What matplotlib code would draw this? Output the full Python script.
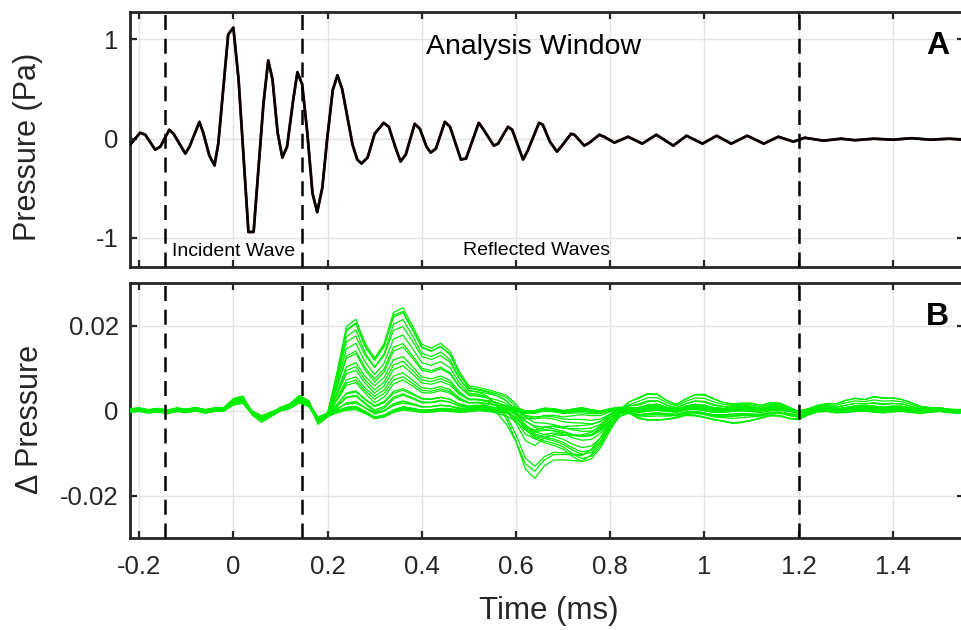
import numpy as np
import matplotlib
matplotlib.use("Agg")
import matplotlib.pyplot as plt
from matplotlib.ticker import FuncFormatter

plt.rcParams['font.family'] = ['Liberation Sans', 'DejaVu Sans']
plt.rcParams['axes.unicode_minus'] = False

# ---- panel A: pressure waveform (time in ms, pressure in Pa) ----
wave_t = [-0.219, -0.198, -0.187, -0.166, -0.155, -0.136, -0.127, -0.102, -0.093, -0.072,
          -0.064, -0.051, -0.040, -0.032, -0.011, 0.000, 0.011, 0.032, 0.043, 0.064,
          0.074, 0.083, 0.094, 0.104, 0.114, 0.127, 0.136, 0.146, 0.157, 0.168,
          0.178, 0.189, 0.199, 0.211, 0.221, 0.231, 0.242, 0.253, 0.263, 0.272,
          0.285, 0.300, 0.319, 0.330, 0.345, 0.355, 0.366, 0.385, 0.396, 0.410,
          0.419, 0.430, 0.449, 0.460, 0.474, 0.483, 0.494, 0.521, 0.530, 0.553,
          0.562, 0.583, 0.592, 0.615, 0.625, 0.649, 0.657, 0.672, 0.687, 0.696,
          0.717, 0.724, 0.745, 0.756, 0.777, 0.787, 0.809, 0.838, 0.868, 0.898,
          0.934, 0.962, 0.996, 1.026, 1.057, 1.091, 1.126, 1.157, 1.189, 1.213,
          1.253, 1.290, 1.320, 1.360, 1.400, 1.440, 1.480, 1.520, 1.550]
wave_p = [-0.06, 0.06, 0.04, -0.11, -0.08, 0.09, 0.05, -0.15, -0.08, 0.17,
          0.06, -0.17, -0.27, -0.05, 1.05, 1.12, 0.60, -0.94, -0.94, 0.36,
          0.79, 0.60, 0.06, -0.19, -0.08, 0.39, 0.67, 0.55, 0.06, -0.55,
          -0.74, -0.49, -0.01, 0.49, 0.64, 0.50, 0.22, -0.06, -0.21, -0.25,
          -0.19, 0.05, 0.16, 0.12, -0.10, -0.23, -0.16, 0.15, 0.10, -0.08,
          -0.14, -0.10, 0.17, 0.12, -0.08, -0.21, -0.20, 0.16, 0.10, -0.07,
          -0.05, 0.12, 0.09, -0.21, -0.12, 0.16, 0.14, -0.03, -0.13, -0.08,
          0.05, 0.04, -0.07, -0.04, 0.04, 0.02, -0.04, 0.02, -0.05, 0.04,
          -0.07, 0.03, -0.05, 0.03, -0.05, 0.03, -0.05, 0.02, -0.03, 0.01,
          -0.02, 0.00, -0.015, 0.00, -0.01, 0.005, -0.01, 0.00, -0.01]

# ---- panel B: delta pressure, components read on a 0.02 ms grid (units 1e-3) ----
grid_t = np.round(np.arange(-0.22, 1.561, 0.02), 2)

base = [0.0, 0.2, -0.2, 0.1, -0.3, 0.2, -0.1, 0.3, -0.2, 0.2,
        0.3, 2.0, 2.5, -0.6, -2.0, -0.9, 0.3, 1.0, 2.6, 1.6,
        -2.4, -1.2, -0.3, 0.4, 0.6, -0.5, -1.8, -1.4, -0.2, 0.5,
        0.2, -0.2, -0.1, 0.2, 0.1, -0.2, 0.0, 0.3, 0.1, -0.2,
        0.2, 0.3, -0.3, -0.2, 0.3, 0.2, -0.2, 0.1, 0.4, 0.0,
        -0.3, 0.2, 0.4, 0.0, -0.4, 0.1, 0.4, 0.0, -0.3, 0.2,
        0.4, 0.1, -0.3, -0.2, 0.2, 0.3, 0.0, -0.3, 0.1, 0.3,
        0.0, -0.4, 0.0, 0.3, 0.2, -0.2, -0.1, 0.2, 0.3, 0.0,
        -0.2, 0.1, 0.2, -0.1, -0.3, 0.0, 0.2, -0.1, -0.2, 0.0]

# reflected positive lobe (largest trace), 0.20 .. 0.64 ms
pos_lobe = [0] * 21 + [0.3, 9.0, 19.0, 20.5, 16.0, 14.0, 17.0, 23.0, 23.3, 19.5,
                       15.5, 14.5, 15.3, 13.5, 9.0, 5.5, 4.8, 4.5, 4.2, 3.5,
                       2.0, 0.5] + [0] * 47
# early negative lobe, 0.52 .. 0.84 ms
neg_early = [0] * 37 + [0, -0.5, -2.0, -5.0, -9.0, -13.5, -15.3, -13.0, -11.5, -11.0,
                        -11.5, -12.0, -10.0, -6.5, -3.0, -1.0] + [0] * 37
# late negative lobe, 0.56 .. 0.86 ms
neg_late = [0] * 39 + [0, -1.0, -2.5, -4.5, -6.5, -8.0, -8.5, -9.0, -11.0, -12.5,
                       -11.5, -8.5, -5.0, -2.0, -0.5] + [0] * 36
# upper tail ripples, 0.80 .. 1.52 ms
tail_up = [0] * 51 + [0, 1.0, 2.5, 3.5, 4.0, 3.6, 2.5, 1.8, 2.6, 3.5,
                      3.8, 3.2, 2.2, 1.4, 1.5, 1.8, 1.6, 1.8, 1.5, 0.8,
                      0.0, 0.3, 0.9, 1.5, 1.9, 2.6, 2.8, 2.4, 3.4, 3.3,
                      3.0, 2.5, 2.0, 1.3, 0.7, 0.2, 0.0] + [0] * 2
# lower tail ripples, 0.84 .. 1.26 ms
tail_down = [0] * 53 + [0, -1.5, -2.5, -2.8, -2.2, -1.5, -1.3, -1.6, -1.8, -2.0,
                        -2.5, -3.4, -3.3, -2.5, -1.6, -1.3, -1.6, -2.0, -1.8, -1.0,
                        -0.4, 0.0] + [0] * 15

# per-trace weights
gain_pos = [1.00, 0.99, 0.96, 0.91, 0.82, 0.74, 0.66, 0.60, 0.54, 0.47,
            0.42, 0.37, 0.32, 0.27, 0.22, 0.18, 0.15, 0.12, 0.09, 0.07,
            0.04, 0.02, 0.01, 0.00, 0.00, 0.00, 0.00, 0.00]
gain_early = [0.00, 0.15, 0.00, 1.00, 0.00, 0.80, 0.00, 0.55, 0.00, 0.00,
              0.35, 0.00, 0.92, 0.00, 0.20, 0.00, 0.00, 0.00, 0.30, 0.00,
              0.00, 0.10, 0.00, 0.00, 0.05, 0.00, 0.00, 0.00]
gain_late = [0.45, 0.35, 0.60, 0.00, 0.95, 0.10, 0.80, 0.00, 0.70, 1.00,
             0.20, 0.50, 0.00, 0.30, 0.15, 0.00, 0.85, 0.00, 0.00, 0.20,
             0.10, 0.00, 0.05, 0.00, 0.00, 0.00, 0.00, 0.00]
gain_up = [0.20, 0.00, 0.90, 0.10, 0.00, 0.30, 1.00, 0.00, 0.00, 0.70,
           0.00, 0.60, 0.00, 0.40, 0.00, 0.20, 0.00, 0.10, 0.00, 0.30,
           0.00, 0.15, 0.00, 0.20, 0.00, 0.10, 0.00, 0.05]
gain_down = [0.00, 0.30, 0.00, 0.40, 1.00, 0.00, 0.00, 0.20, 0.80, 0.00,
             0.10, 0.00, 0.60, 0.00, 0.30, 0.00, 0.90, 0.00, 0.20, 0.00,
             0.10, 0.00, 0.15, 0.00, 0.10, 0.00, 0.05, 0.00]
gain_base = [1.10, 0.90, 1.00, 1.20, 0.85, 1.05, 0.95, 1.15, 0.80, 1.00,
             1.10, 0.90, 1.00, 1.25, 0.85, 0.95, 1.05, 1.20, 0.90, 1.00,
             0.80, 1.10, 0.95, 1.00, 1.15, 0.85, 1.05, 0.90]
offset = [0.3, -0.2, 0.1, -0.4, 0.2, 0.0, -0.1, 0.4, -0.3, 0.1,
          0.2, -0.2, 0.0, 0.3, -0.4, 0.1, -0.1, 0.2, -0.3, 0.0,
          0.4, -0.2, 0.1, -0.1, 0.3, -0.3, 0.2, 0.0]

window_t = [-0.146, 0.145, 1.2]

x_ticks = [-0.2, 0, 0.2, 0.4, 0.6, 0.8, 1.0, 1.2, 1.4]

ink = '#262626'
fmt = FuncFormatter(lambda v, pos: '%g' % round(v, 4))

fig = plt.figure(figsize=(9.62, 6.3), dpi=100)
axA = fig.add_axes([0.1351, 0.5762, 0.8669, 0.4052])
axB = fig.add_axes([0.1351, 0.1460, 0.8669, 0.4048])

for ax in (axA, axB):
    ax.set_xlim(-0.2195, 1.551)
    ax.set_xticks(x_ticks)
    ax.grid(True, color='#e3e3e3', lw=1.0)
    ax.set_axisbelow(True)
    ax.tick_params(direction='in', top=True, right=True, length=5, width=1.6,
                   color=ink, labelcolor=ink, labelsize=18.5)
    ax.tick_params(axis='x', pad=12)
    ax.tick_params(axis='y', pad=8)
    for s in ax.spines.values():
        s.set_linewidth(2.0)
        s.set_color(ink)
    for wt in window_t:
        ax.axvline(wt, color='black', lw=1.8, dashes=(6, 3.5), zorder=5)

# panel A
axA.plot(wave_t, wave_p, color='#7a2020', lw=2.0, zorder=3)
axA.plot(wave_t, wave_p, color='black', lw=1.8, zorder=4)
axA.set_ylim(-1.293, 1.28)
axA.set_yticks([-1, 0, 1])
axA.yaxis.set_major_formatter(fmt)
axA.tick_params(axis='x', labelbottom=False)
axA.text(0.637, 0.854, 'Analysis Window', fontsize=20.5, ha='center', va='baseline', color='black')
axA.text(0.0, -1.183, 'Incident Wave', fontsize=14, ha='center', va='baseline', color='black')
axA.text(0.644, -1.17, 'Reflected Waves', fontsize=14, ha='center', va='baseline', color='black')
axA.text(1.4945, 0.854, 'A', fontsize=23, fontweight='bold', ha='center', va='baseline', color='black')

# panel B
for i in range(len(gain_pos)):
    trace = (gain_base[i] * np.array(base) + gain_pos[i] * np.array(pos_lobe)
             + gain_early[i] * np.array(neg_early) + gain_late[i] * np.array(neg_late)
             + gain_up[i] * np.array(tail_up) + gain_down[i] * np.array(tail_down)
             + offset[i]) * 1e-3
    axB.plot(grid_t, trace, color='#00ee00', lw=0.9, zorder=3)
axB.set_ylim(-0.03, 0.03)
axB.set_yticks([-0.02, 0, 0.02])
axB.yaxis.set_major_formatter(fmt)
axB.xaxis.set_major_formatter(fmt)
axB.text(1.4945, 0.0202, 'B', fontsize=23, fontweight='bold', ha='center', va='baseline', color='black')

fig.text(28.5 / 962, 1 - 146.7 / 630, 'Pressure (Pa)', rotation=90, fontsize=22,
         ha='center', va='center', color=ink)
fig.text(30.5 / 962, 1 - 419 / 630, 'Δ Pressure', rotation=90, fontsize=22,
         ha='center', va='center', color=ink)
fig.text(549 / 962, 1 - 611.5 / 630, 'Time (ms)', fontsize=22.5,
         ha='center', va='center', color=ink)

fig.savefig('out.png', dpi=100, facecolor='white')
